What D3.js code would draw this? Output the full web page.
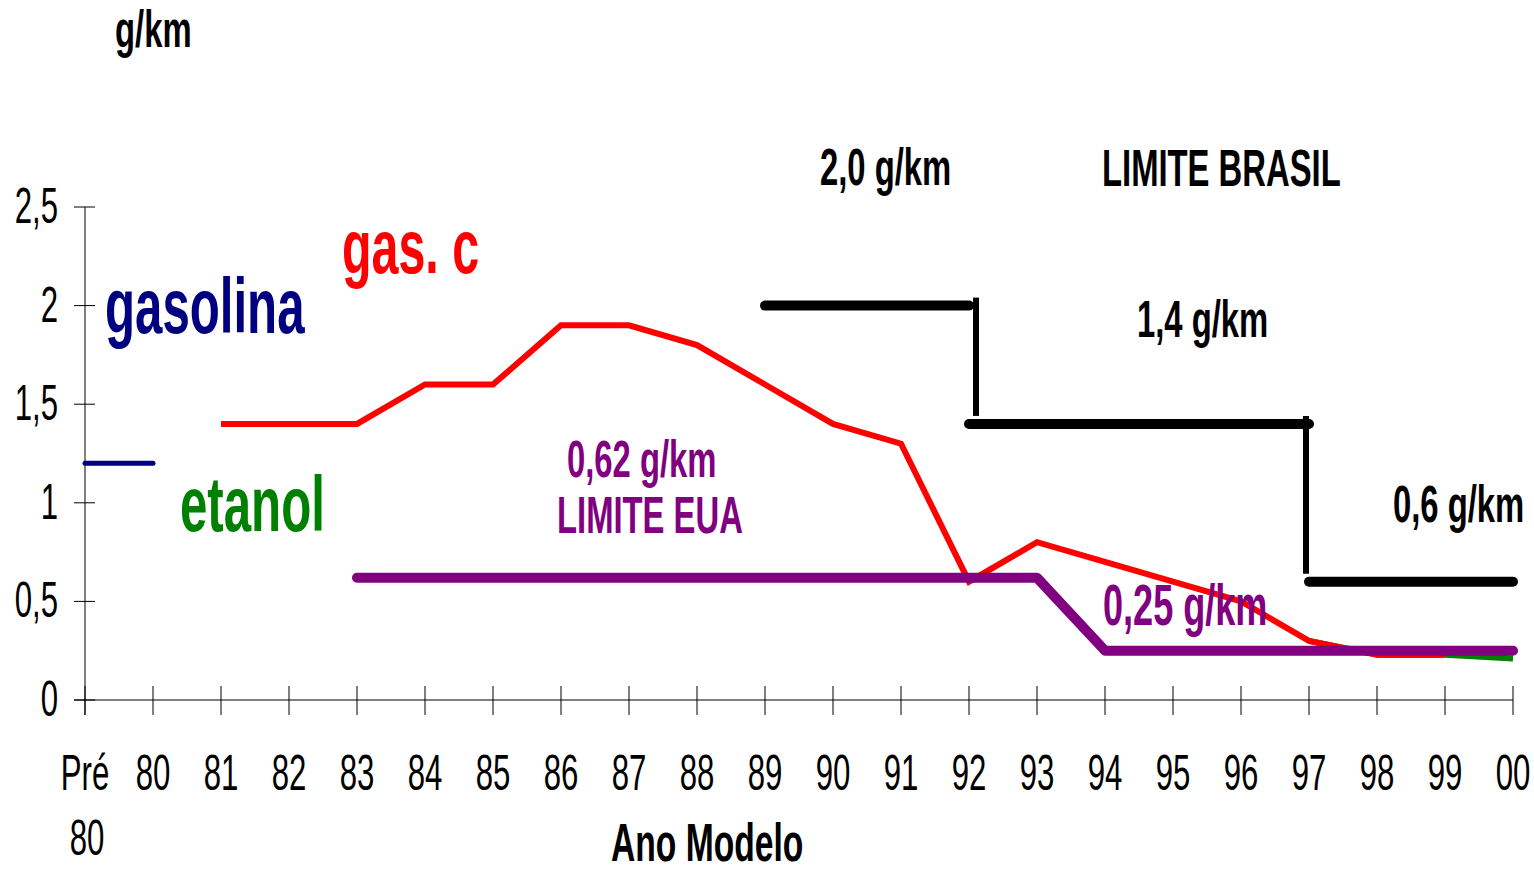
<!DOCTYPE html>
<html><head><meta charset="utf-8">
<script src="https://cdn.jsdelivr.net/npm/d3@7"></script>
<style>
html,body{margin:0;padding:0;background:#fff;}
svg{display:block;}
text{font-family:"Liberation Sans",Arial,sans-serif;}
</style></head>
<body>
<svg id="chart" width="1534" height="873"></svg>
<script>
// ---- data ----
const categories = ["Pré 80","80","81","82","83","84","85","86","87","88","89","90","91","92","93","94","95","96","97","98","99","00"];
const yTicks = [0, 0.5, 1, 1.5, 2, 2.5];
const yTickLabels = ["0","0,5","1","1,5","2","2,5"];

const gasolina = [["Pré 80",1.2],["80",1.2]];
const gasC = [["81",1.4],["82",1.4],["83",1.4],["84",1.6],["85",1.6],["86",1.9],["87",1.9],["88",1.8],["89",1.6],["90",1.4],["91",1.3],["92",0.6],["93",0.8],["94",0.7],["95",0.6],["96",0.5],["97",0.3],["98",0.23],["99",0.23]];
const etanol = [["97",0.3],["98",0.23],["99",0.23],["00",0.21]];
const limiteEUA = [["83",0.62],["84",0.62],["85",0.62],["86",0.62],["87",0.62],["88",0.62],["89",0.62],["90",0.62],["91",0.62],["92",0.62],["93",0.62],["94",0.25],["95",0.25],["96",0.25],["97",0.25],["98",0.25],["99",0.25],["00",0.25]];
const limiteBrasilSteps = [["89","92",2.0],["92","97",1.4],["97","00",0.6]];

// ---- chart ----
const svg = d3.select("#chart");
const x = d3.scalePoint().domain(categories).range([85, 1513]);
const y = d3.scaleLinear().domain([0, 2.5]).range([700, 207]);
const SX = 0.82, SY = 1.3;

// axes
const yAxis = d3.axisLeft(y).tickValues(yTicks).tickSize(0).tickFormat("");
const gy = svg.append("g").attr("transform","translate(85,0)").call(yAxis);
gy.select(".domain").attr("stroke","#000").attr("stroke-width",1).attr("d",`M0,${y(2.5)}V715`);
svg.append("g").selectAll("line").data(yTicks).join("line")
  .attr("x1",74).attr("x2",95).attr("y1",d=>y(d)).attr("y2",d=>y(d))
  .attr("stroke","#000").attr("stroke-width",1);

svg.append("line").attr("x1",74).attr("x2",1513).attr("y1",y(0)).attr("y2",y(0)).attr("stroke","#000").attr("stroke-width",1);
svg.append("g").selectAll("line").data(categories).join("line")
  .attr("x1",d=>x(d)).attr("x2",d=>x(d)).attr("y1",686).attr("y2",715)
  .attr("stroke","#000").attr("stroke-width",1);

function stext(g, str, tx, ty, size, weight, fill, anchor){
  return g.append("text")
    .attr("transform",`translate(${tx},${ty}) scale(${SX},${SY})`)
    .attr("font-size",size).attr("font-weight",weight||"normal")
    .attr("fill",fill||"#000").attr("text-anchor",anchor||"start")
    .text(str);
}

// y tick labels
yTicks.forEach((t,i)=>stext(svg, yTickLabels[i], 58, y(t)+16, 38, "normal", "#000", "end"));
// x tick labels
categories.forEach(c=>{
  const parts = c.split(" ");
  stext(svg, parts[0], x(c), 790, 38, "normal", "#000", "middle");
  if (parts[1]) stext(svg, parts[1], x(c)+2, 855, 38, "normal", "#000", "middle");
});

const line = d3.line().x(d=>x(d[0])).y(d=>y(d[1]));

// series
svg.append("path").datum(etanol).attr("d",line).attr("fill","none").attr("stroke","#008000").attr("stroke-width",6).attr("stroke-linejoin","round");
svg.append("path").datum(gasC).attr("d",line).attr("fill","none").attr("stroke","#ff0000").attr("stroke-width",6).attr("stroke-linejoin","miter");
svg.append("path").datum(gasolina).attr("d",line).attr("fill","none").attr("stroke","#000080").attr("stroke-width",5).attr("stroke-linecap","round");
svg.append("path").datum(limiteEUA).attr("d",line).attr("fill","none").attr("stroke","#800080").attr("stroke-width",10).attr("stroke-linecap","round").attr("stroke-linejoin","round");

// limite Brasil
const gb = svg.append("g");
gb.selectAll("line.h").data(limiteBrasilSteps).join("line").attr("class","h")
  .attr("x1",d=>x(d[0])).attr("x2",d=>x(d[1])).attr("y1",d=>y(d[2])).attr("y2",d=>y(d[2]))
  .attr("stroke","#000").attr("stroke-width",10).attr("stroke-linecap","round");
const steps = d3.pairs(limiteBrasilSteps);
gb.selectAll("line.v").data(steps).join("line").attr("class","v")
  .attr("x1",(d,i)=>x(d[1][0]) + (i===0?7:-3)).attr("x2",(d,i)=>x(d[1][0]) + (i===0?7:-3))
  .attr("y1",d=>y(d[0][2])-8).attr("y2",d=>y(d[1][2])-8)
  .attr("stroke","#000").attr("stroke-width",6);

// labels
stext(svg,"g/km",115,47,40,"bold","#000");
stext(svg,"gasolina",105,333,60,"bold","#000080");
stext(svg,"gas. c",342,273,59,"bold","#ff0000");
stext(svg,"etanol",180,531,60,"bold","#008000");
stext(svg,"0,62 g/km",567,477,40,"bold","#800080");
stext(svg,"LIMITE EUA",557,533,40,"bold","#800080");
stext(svg,"2,0 g/km",820,185,40,"bold","#000");
stext(svg,"LIMITE BRASIL",1102,186,40,"bold","#000");
stext(svg,"1,4 g/km",1137,337,40,"bold","#000");
stext(svg,"0,6 g/km",1393,522,40,"bold","#000");
stext(svg,"0,25 g/km",1103,625,44,"bold","#800080");
stext(svg,"Ano Modelo",611,861,41,"bold","#000");
</script>
</body></html>
